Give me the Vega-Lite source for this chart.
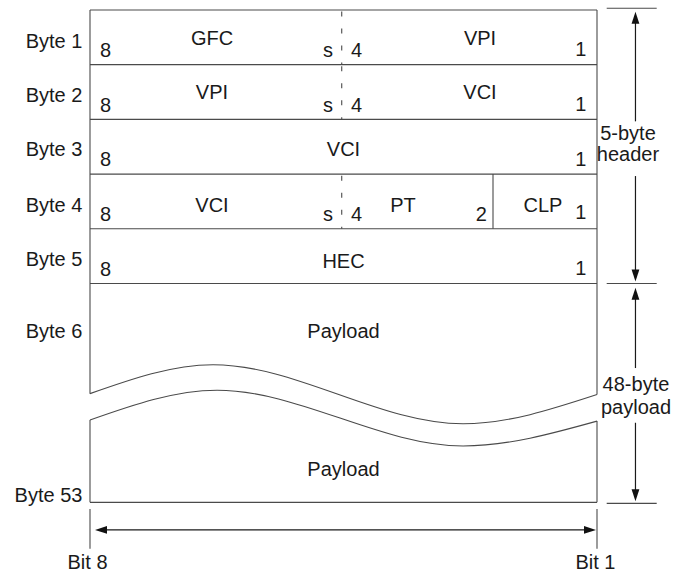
{
  "$schema": "https://vega.github.io/schema/vega-lite/v6.json",
  "width": 673,
  "height": 573,
  "autosize": {"type": "fit", "contains": "padding"},
  "padding": 0,
  "background": "white",
  "config": {
    "view": {"stroke": null},
    "text": {"font": "Liberation Sans", "fontSize": 20, "color": "#1a1a1a", "baseline": "alphabetic"}
  },
  "encoding": {
    "x": {"field": "x", "type": "quantitative", "scale": {"domain": [-1.42012, 9.19921], "nice": false, "zero": false}, "axis": null},
    "y": {"field": "y", "type": "quantitative", "scale": {"domain": [-0.18182, 10.23636], "nice": false, "zero": false, "reverse": true}, "axis": null}
  },
  "layer": [
    {
      "data": {"values": [
        {"x": 0, "y": 0, "x2": 8, "y2": 0},
        {"x": 0, "y": 1, "x2": 8, "y2": 1},
        {"x": 0, "y": 2, "x2": 8, "y2": 2},
        {"x": 0, "y": 3, "x2": 8, "y2": 3},
        {"x": 0, "y": 4, "x2": 8, "y2": 4},
        {"x": 0, "y": 5, "x2": 8, "y2": 5},
        {"x": 0, "y": 9, "x2": 8, "y2": 9},
        {"x": 0, "y": 0, "x2": 0, "y2": 7.013},
        {"x": 0, "y": 7.496, "x2": 0, "y2": 9},
        {"x": 8, "y": 0, "x2": 8, "y2": 7.03},
        {"x": 8, "y": 7.515, "x2": 8, "y2": 9},
        {"x": 6.359, "y": 3, "x2": 6.359, "y2": 4},
        {"x": 0, "y": 9.122, "x2": 0, "y2": 9.849},
        {"x": 8, "y": 9.122, "x2": 8, "y2": 9.849},
        {"x": 8.153, "y": -0.031, "x2": 8.942, "y2": -0.031},
        {"x": 8.153, "y": 5, "x2": 8.942, "y2": 5},
        {"x": 8.153, "y": 9.018, "x2": 8.942, "y2": 9.018}
      ]},
      "mark": {"type": "rule", "stroke": "#4a4a4a", "strokeWidth": 1.1},
      "encoding": {"x2": {"field": "x2"}, "y2": {"field": "y2"}}
    },
    {
      "data": {"values": [
        {"x": 8.607, "y": 0.1, "x2": 8.607, "y2": 2.036},
        {"x": 8.607, "y": 3.036, "x2": 8.607, "y2": 4.9},
        {"x": 8.607, "y": 5.15, "x2": 8.607, "y2": 6.545},
        {"x": 8.607, "y": 7.545, "x2": 8.607, "y2": 8.9},
        {"x": 0.15, "y": 9.504, "x2": 7.9, "y2": 9.504}
      ]},
      "mark": {"type": "rule", "stroke": "#1a1a1a", "strokeWidth": 1.2},
      "encoding": {"x2": {"field": "x2"}, "y2": {"field": "y2"}}
    },
    {
      "data": {"values": [
        {"x": 3.972, "y": 0.03, "x2": 3.972, "y2": 1},
        {"x": 3.972, "y": 1.03, "x2": 3.972, "y2": 2},
        {"x": 3.972, "y": 3.03, "x2": 3.972, "y2": 4}
      ]},
      "mark": {"type": "rule", "stroke": "#4a4a4a", "strokeWidth": 1.1, "strokeDash": [5, 12]},
      "encoding": {"x2": {"field": "x2"}, "y2": {"field": "y2"}}
    },
    {
      "data": {"values": [
        {"wave": "upper", "x": 0, "y": 7.013},
        {"wave": "upper", "x": 1.941, "y": 6.485},
        {"wave": "upper", "x": 5.886, "y": 7.564},
        {"wave": "upper", "x": 8, "y": 7.03},
        {"wave": "lower", "x": 0, "y": 7.496},
        {"wave": "lower", "x": 2.004, "y": 6.951},
        {"wave": "lower", "x": 5.886, "y": 7.969},
        {"wave": "lower", "x": 8, "y": 7.515}
      ]},
      "mark": {"type": "line", "interpolate": "monotone", "stroke": "#4a4a4a", "strokeWidth": 1.1},
      "encoding": {"detail": {"field": "wave"}}
    },
    {
      "data": {"values": [
        {"dir": "up", "x": 8.607, "y": 0.031},
        {"dir": "down", "x": 8.607, "y": 4.964},
        {"dir": "up", "x": 8.607, "y": 5.078},
        {"dir": "down", "x": 8.607, "y": 8.982},
        {"dir": "left", "x": 0.0789, "y": 9.504},
        {"dir": "right", "x": 7.984, "y": 9.504}
      ]},
      "mark": {"type": "point", "filled": true, "opacity": 1, "color": "#111111", "size": 144, "strokeWidth": 0},
      "encoding": {
        "shape": {
          "field": "dir",
          "scale": {
            "domain": ["up", "down", "left", "right"],
            "range": ["M0,0L0.65,2L-0.65,2Z", "M0,0L0.65,-2L-0.65,-2Z", "M0,0L2,0.65L2,-0.65Z", "M0,0L-2,0.65L-2,-0.65Z"]
          },
          "legend": null
        }
      }
    },
    {
      "data": {"values": [
        {"label": "GFC", "x": 1.925, "y": 0.636},
        {"label": "VPI", "x": 6.154, "y": 0.636},
        {"label": "VPI", "x": 1.925, "y": 1.636},
        {"label": "VCI", "x": 6.154, "y": 1.636},
        {"label": "VCI", "x": 4.0, "y": 2.673},
        {"label": "VCI", "x": 1.925, "y": 3.69},
        {"label": "PT", "x": 4.939, "y": 3.69},
        {"label": "CLP", "x": 7.148, "y": 3.69},
        {"label": "HEC", "x": 4.0, "y": 4.71},
        {"label": "Payload", "x": 4.0, "y": 6.0},
        {"label": "Payload", "x": 4.0, "y": 8.527},
        {"label": "5-byte", "x": 8.489, "y": 2.382},
        {"label": "header", "x": 8.489, "y": 2.764},
        {"label": "48-byte", "x": 8.615, "y": 6.969},
        {"label": "payload", "x": 8.615, "y": 7.382},
        {"label": "Bit 8", "x": -0.039, "y": 10.218},
        {"label": "Bit 1", "x": 7.976, "y": 10.218}
      ]},
      "mark": {"type": "text", "align": "center"},
      "encoding": {"text": {"field": "label"}}
    },
    {
      "data": {"values": [
        {"label": "8", "x": 0.158, "y": 0.86},
        {"label": "8", "x": 0.158, "y": 1.86},
        {"label": "8", "x": 0.158, "y": 2.86},
        {"label": "8", "x": 0.158, "y": 3.86},
        {"label": "8", "x": 0.158, "y": 4.86},
        {"label": "4", "x": 4.118, "y": 0.86},
        {"label": "4", "x": 4.118, "y": 1.86},
        {"label": "4", "x": 4.118, "y": 3.86}
      ]},
      "mark": {"type": "text", "align": "left"},
      "encoding": {"text": {"field": "label"}}
    },
    {
      "data": {"values": [
        {"label": "s", "x": 3.835, "y": 0.86},
        {"label": "s", "x": 3.835, "y": 1.86},
        {"label": "s", "x": 3.835, "y": 3.86},
        {"label": "1", "x": 7.834, "y": 0.85},
        {"label": "1", "x": 7.834, "y": 1.85},
        {"label": "1", "x": 7.834, "y": 2.85},
        {"label": "1", "x": 7.834, "y": 3.82},
        {"label": "1", "x": 7.834, "y": 4.85},
        {"label": "2", "x": 6.264, "y": 3.85},
        {"label": "Byte 1", "x": -0.12, "y": 0.69},
        {"label": "Byte 2", "x": -0.12, "y": 1.69},
        {"label": "Byte 3", "x": -0.12, "y": 2.673},
        {"label": "Byte 4", "x": -0.12, "y": 3.69},
        {"label": "Byte 5", "x": -0.12, "y": 4.673},
        {"label": "Byte 6", "x": -0.12, "y": 6.0},
        {"label": "Byte 53", "x": -0.12, "y": 9.0}
      ]},
      "mark": {"type": "text", "align": "right"},
      "encoding": {"text": {"field": "label"}}
    }
  ]
}
